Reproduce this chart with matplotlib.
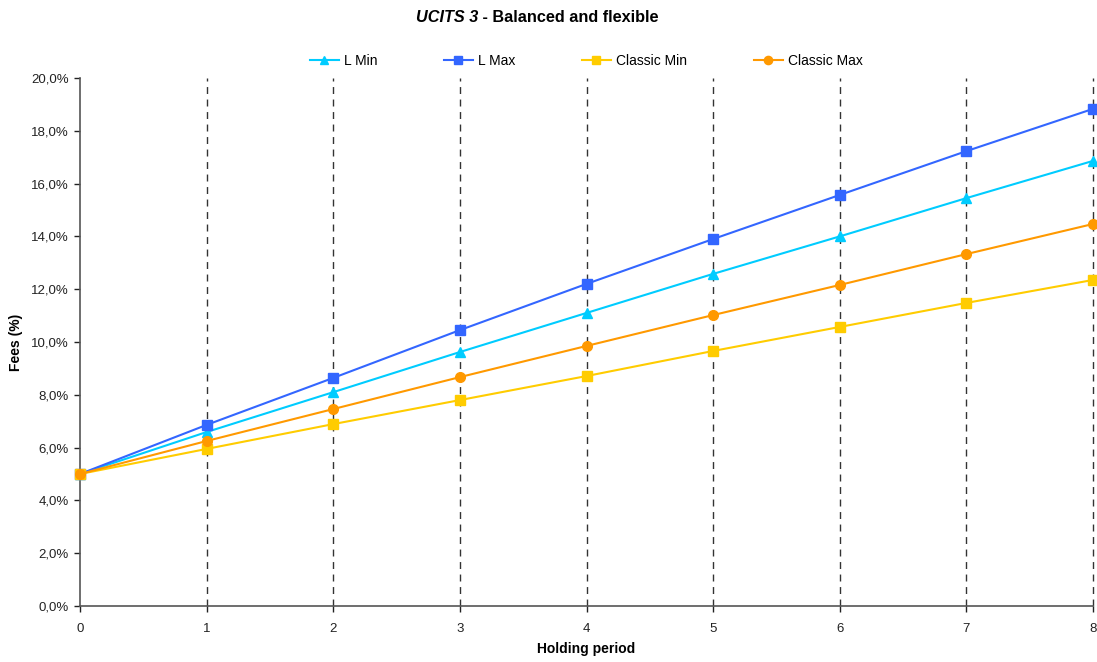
import numpy as np
import matplotlib.pyplot as plt
from matplotlib.ticker import FuncFormatter

plt.rcParams['font.family'] = ['Liberation Sans', 'DejaVu Sans']

# Durée de détention (années) et frais cumulés (%)
periodes = np.arange(0, 9)
l_min = [5.0, 6.59, 8.10, 9.62, 11.10, 12.58, 14.00, 15.45, 16.86]
l_max = [5.0, 6.86, 8.64, 10.45, 12.20, 13.90, 15.57, 17.23, 18.83]
classic_min = [5.0, 5.95, 6.89, 7.80, 8.71, 9.66, 10.57, 11.48, 12.35]
classic_max = [5.0, 6.25, 7.46, 8.67, 9.85, 11.02, 12.16, 13.33, 14.47]

noms = ['L Min', 'L Max', 'Classic Min', 'Classic Max']
couleurs = ['#00CCFF', '#3366FF', '#FFCC00', '#FF9900']
marqueurs = ['^', 's', 's', 'o']

fig = plt.figure(figsize=(10.97, 6.62), dpi=100)
ax = fig.add_axes([80/1097, 1 - 606/662, (1093 - 80)/1097, (606 - 78)/662])

# lignes verticales pointillées à chaque année
for x in periodes[1:]:
    ax.axvline(x, color='#333333', lw=1, ls=(0, (5, 4)), zorder=1, clip_on=False)

series = [l_min, l_max, classic_min, classic_max]
for valeurs, nom, c, m in zip(series, noms, couleurs, marqueurs):
    ax.plot(periodes, valeurs, color=c, marker=m, markersize=7, lw=1.5,
            label=nom, zorder=3, clip_on=False)

ax.set_xlim(0, 8)
ax.set_ylim(0, 20)
ax.set_xticks(periodes)
ax.set_yticks(np.arange(0, 21, 2))
ax.yaxis.set_major_formatter(FuncFormatter(lambda v, p: ('%.1f%%' % v).replace('.', ',')))
ax.tick_params(direction='out', length=4, width=1, labelsize=9.5, colors='#222222', pad=4)
ax.tick_params(axis='x', pad=8)

for s in ['top', 'right']:
    ax.spines[s].set_visible(False)
for s in ['left', 'bottom']:
    ax.spines[s].set_color('#555555')
    ax.spines[s].set_linewidth(1.2)

ax.set_xlabel('Holding period', fontsize=10, fontweight='bold', labelpad=5)
ax.set_ylabel('Fees (%)', fontsize=10, fontweight='bold')
ax.yaxis.set_label_coords(-0.056, 0.5)

# titre : partie en italique puis suite en gras droit
t1 = fig.text(416/1097, 1 - 17/662, 'UCITS 3', fontsize=11.7, fontweight='bold',
              fontstyle='italic', ha='left', va='center')
ax.annotate(' - Balanced and flexible', xy=(1, 0), xycoords=t1, va='bottom',
            fontsize=11.7, fontweight='bold', annotation_clip=False)

fig.legend(loc='center', bbox_to_anchor=(586/1097, 1 - 61/662), ncol=4,
           frameon=False, fontsize=10, columnspacing=4.8, handlelength=2.1,
           handletextpad=0.35, markerscale=0.85)

fig.savefig('out.png', dpi=100)
